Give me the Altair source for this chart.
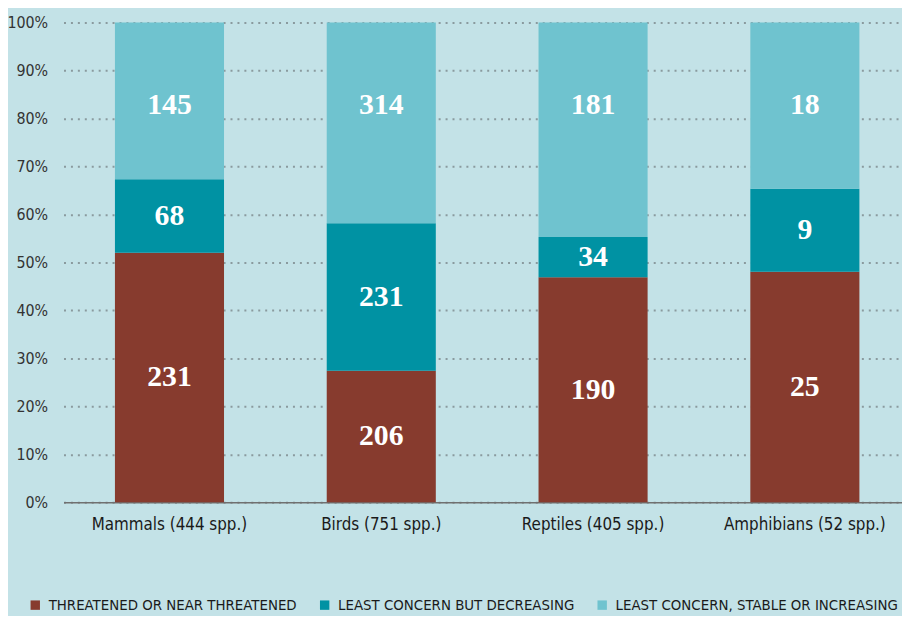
import altair as alt
import pandas as pd

groups = ["Mammals (444 spp.)", "Birds (751 spp.)", "Reptiles (405 spp.)", "Amphibians (52 spp.)"]
categories = ["THREATENED OR NEAR THREATENED", "LEAST CONCERN BUT DECREASING", "LEAST CONCERN, STABLE OR INCREASING"]
threatened = [231, 206, 190, 25]
decreasing = [68, 231, 34, 9]
stable = [145, 314, 181, 18]
colors = ["#873b2e", "#0092a3", "#6fc3cf"]
y_ticks = [0, 0.1, 0.2, 0.3, 0.4, 0.5, 0.6, 0.7, 0.8, 0.9, 1.0]

rows = []
for i, g in enumerate(groups):
    for j, (c, vals) in enumerate(zip(categories, [threatened, decreasing, stable])):
        rows.append({"group": g, "category": c, "count": vals[i], "order": j})
df = pd.DataFrame(rows)

SANS = "Liberation Sans Narrow, DejaVu Sans Condensed, Roboto, sans-serif"

base = alt.Chart(df).transform_stack(
    stack="count", groupby=["group"], as_=["y0", "y1"], offset="normalize",
    sort=[alt.SortField("order")]
).transform_calculate(
    mid="datum.order == 2 ? 0.828 : (datum.y0 + datum.y1) / 2"
)

x = alt.X(
    "group:N", sort=groups, title=None,
    scale=alt.Scale(paddingInner=0.485, paddingOuter=0.222, align=0.547),
    axis=alt.Axis(labelAngle=0, ticks=False, domainColor="#707070", domainWidth=1.5,
                  labelFontSize=17, labelPadding=14, labelColor="#1a1a1a", labelFont=SANS),
)

bars = base.mark_bar().encode(
    x=x,
    y=alt.Y("y0:Q", title=None, scale=alt.Scale(domain=[0, 1], nice=False),
            axis=alt.Axis(format="%", values=y_ticks, domain=False, ticks=False,
                          labelFontSize=16, labelPadding=16, labelColor="#333333", labelFont=SANS,
                          grid=True, gridDash=[2, 5], gridColor="#8a9a9e", gridWidth=2)),
    y2="y1:Q",
    color=alt.Color("category:N", title=None,
                    scale=alt.Scale(domain=categories, range=colors),
                    legend=alt.Legend(orient="none", legendX=-36, legendY=580, direction="horizontal",
                                      symbolType="square", symbolSize=90, symbolStrokeWidth=0,
                                      symbolOpacity=1,
                                      labelFontSize=15, labelFont=SANS, labelColor="#1a1a1a",
                                      columnPadding=20, labelLimit=400, labelOffset=6)),
    order=alt.Order("order:Q"),
)

text = base.mark_text(font="Liberation Serif", fontWeight="bold", fontSize=30,
                      color="white", baseline="middle").encode(
    x=alt.X("group:N", sort=groups),
    y=alt.Y("mid:Q"),
    text="count:Q",
)

chart = (bars + text).properties(
    width=846, height=484,
    autosize=alt.AutoSizeParams(type="none"),
    padding={"left": 56, "top": 12, "right": 0, "bottom": 112},
    background="#c3e2e7",
).configure_view(stroke=None)

chart.save("out.html", embed_options={"renderer": "svg", "actions": False})
